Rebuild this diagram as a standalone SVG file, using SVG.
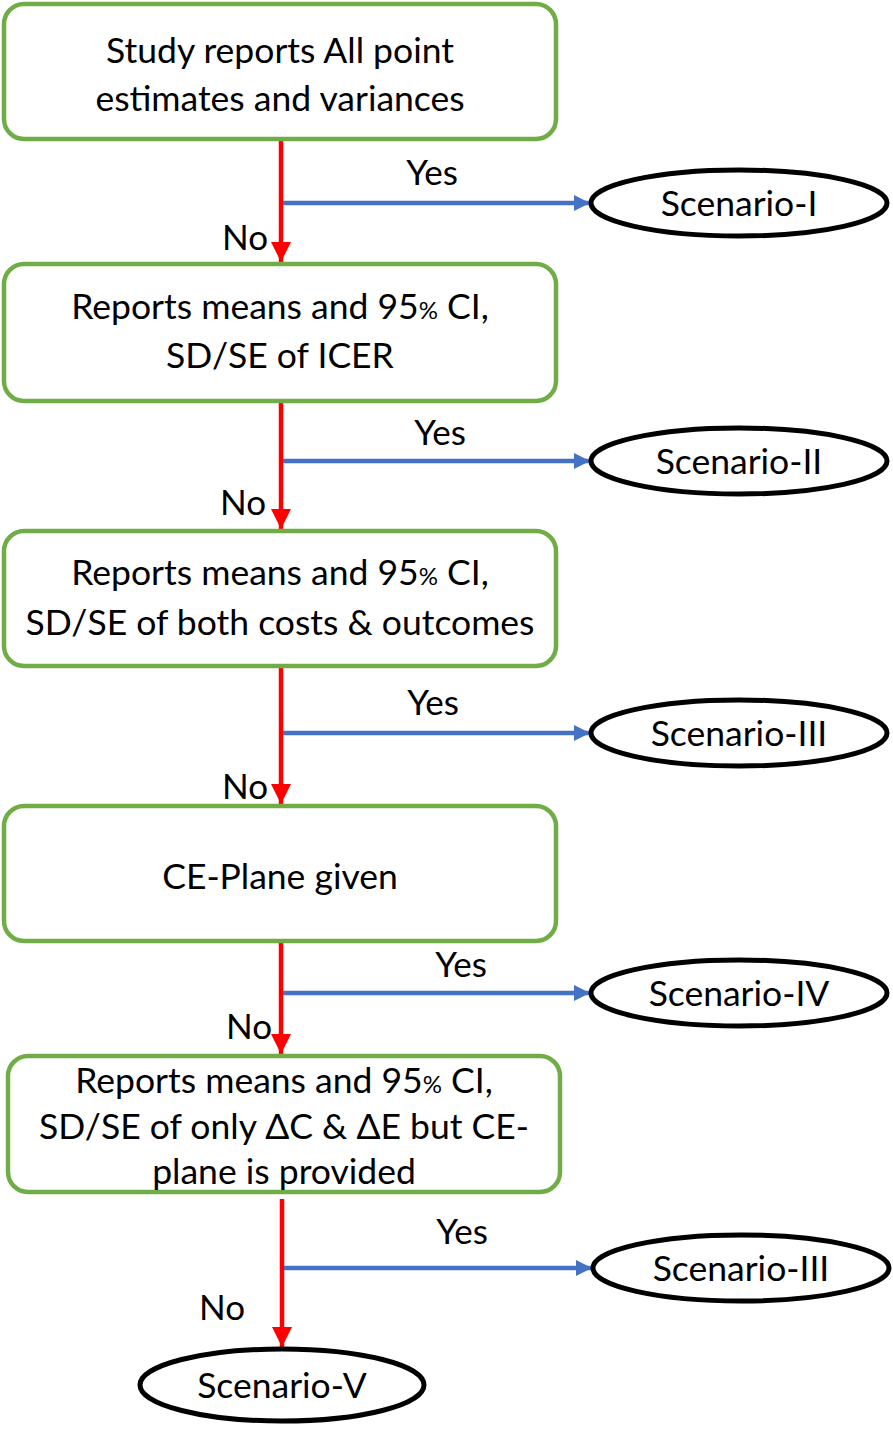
<svg xmlns="http://www.w3.org/2000/svg" width="893" height="1432" viewBox="0 0 893 1432">
<style>
.box{fill:#fff;stroke:#70AD47;stroke-width:4.5}
.ell{fill:#fff;stroke:#000;stroke-width:5}
.t{font-family:Lato,"Liberation Sans",sans-serif;font-size:35.5px;fill:#000;text-anchor:middle}
.lab{font-family:Lato,"Liberation Sans",sans-serif;font-size:35px;fill:#000;text-anchor:middle}
.red{stroke:#FF0000;stroke-width:4.5;fill:none}
.blue{stroke:#4472C4;stroke-width:4.5;fill:none}
.pc{font-size:24px}
</style>
<defs>
<marker id="ar" markerUnits="userSpaceOnUse" markerWidth="20" markerHeight="22" refX="20" refY="10" orient="auto">
<path d="M0,0 L20,10 L0,20 Z" fill="#FF0000"/>
</marker>
<marker id="ab" markerUnits="userSpaceOnUse" markerWidth="18" markerHeight="18" refX="16" refY="8" orient="auto">
<path d="M0,0 L16,8 L0,16 Z" fill="#4472C4"/>
</marker>
</defs>
<g id="connectors">
<line class="red" x1="281" y1="141" x2="281" y2="262" marker-end="url(#ar)"/>
<line class="blue" x1="283" y1="203" x2="590" y2="203" marker-end="url(#ab)"/>
<line class="red" x1="281" y1="402" x2="281" y2="529" marker-end="url(#ar)"/>
<line class="blue" x1="283" y1="461" x2="590" y2="461" marker-end="url(#ab)"/>
<line class="red" x1="281" y1="667" x2="281" y2="804" marker-end="url(#ar)"/>
<line class="blue" x1="283" y1="733" x2="590" y2="733" marker-end="url(#ab)"/>
<line class="red" x1="281" y1="942" x2="281" y2="1054" marker-end="url(#ar)"/>
<line class="blue" x1="283" y1="993" x2="590" y2="993" marker-end="url(#ab)"/>
<line class="red" x1="282" y1="1199" x2="282" y2="1347" marker-end="url(#ar)"/>
<line class="blue" x1="284" y1="1268" x2="592" y2="1268" marker-end="url(#ab)"/>
<text class="lab" x="432" y="185">Yes</text>
<text class="lab" x="245" y="250">No</text>
<text class="lab" x="440" y="445">Yes</text>
<text class="lab" x="243" y="515">No</text>
<text class="lab" x="433" y="715">Yes</text>
<text class="lab" x="245" y="799">No</text>
<text class="lab" x="461" y="977">Yes</text>
<text class="lab" x="249" y="1039">No</text>
<text class="lab" x="462" y="1244">Yes</text>
<text class="lab" x="222" y="1320">No</text>
</g>
<g id="n1">
<rect class="box" x="4" y="4" width="552" height="135" rx="20"/>
<text class="t" x="280" y="63">Study reports All point</text>
<text class="t" x="280" y="111">estimates and variances</text>
</g>
<g id="s1">
<ellipse class="ell" cx="739" cy="203" rx="148" ry="33"/>
<text class="t" x="739" y="216">Scenario-I</text>
</g>
<g id="n2">
<rect class="box" x="4" y="264" width="552" height="137" rx="20"/>
<text class="t" x="280" y="319">Reports means and 95<tspan class="pc">%</tspan> CI,</text>
<text class="t" x="280" y="368">SD/SE of ICER</text>
</g>
<g id="s2">
<ellipse class="ell" cx="739" cy="461" rx="148" ry="33"/>
<text class="t" x="739" y="474">Scenario-II</text>
</g>
<g id="n3">
<rect class="box" x="4" y="531" width="552" height="135" rx="20"/>
<text class="t" x="280" y="585">Reports means and 95<tspan class="pc">%</tspan> CI,</text>
<text class="t" x="280" y="635">SD/SE of both costs &amp; outcomes</text>
</g>
<g id="s3">
<ellipse class="ell" cx="739" cy="733" rx="148" ry="33"/>
<text class="t" x="739" y="746">Scenario-III</text>
</g>
<g id="n4">
<rect class="box" x="4" y="806" width="552" height="135" rx="20"/>
<text class="t" x="280" y="889">CE-Plane given</text>
</g>
<g id="s4">
<ellipse class="ell" cx="739" cy="993" rx="148" ry="33"/>
<text class="t" x="739" y="1006">Scenario-IV</text>
</g>
<g id="n5">
<rect class="box" x="8" y="1056" width="552" height="136" rx="20"/>
<text class="t" x="284" y="1093">Reports means and 95<tspan class="pc">%</tspan> CI,</text>
<text class="t" x="284" y="1139">SD/SE of only ΔC &amp; ΔE but CE-</text>
<text class="t" x="284" y="1184">plane is provided</text>
</g>
<g id="s5">
<ellipse class="ell" cx="741" cy="1268" rx="148" ry="33"/>
<text class="t" x="741" y="1281">Scenario-III</text>
</g>
<g id="s6">
<ellipse class="ell" cx="282" cy="1385" rx="142" ry="36"/>
<text class="t" x="282" y="1398">Scenario-V</text>
</g>
</svg>
